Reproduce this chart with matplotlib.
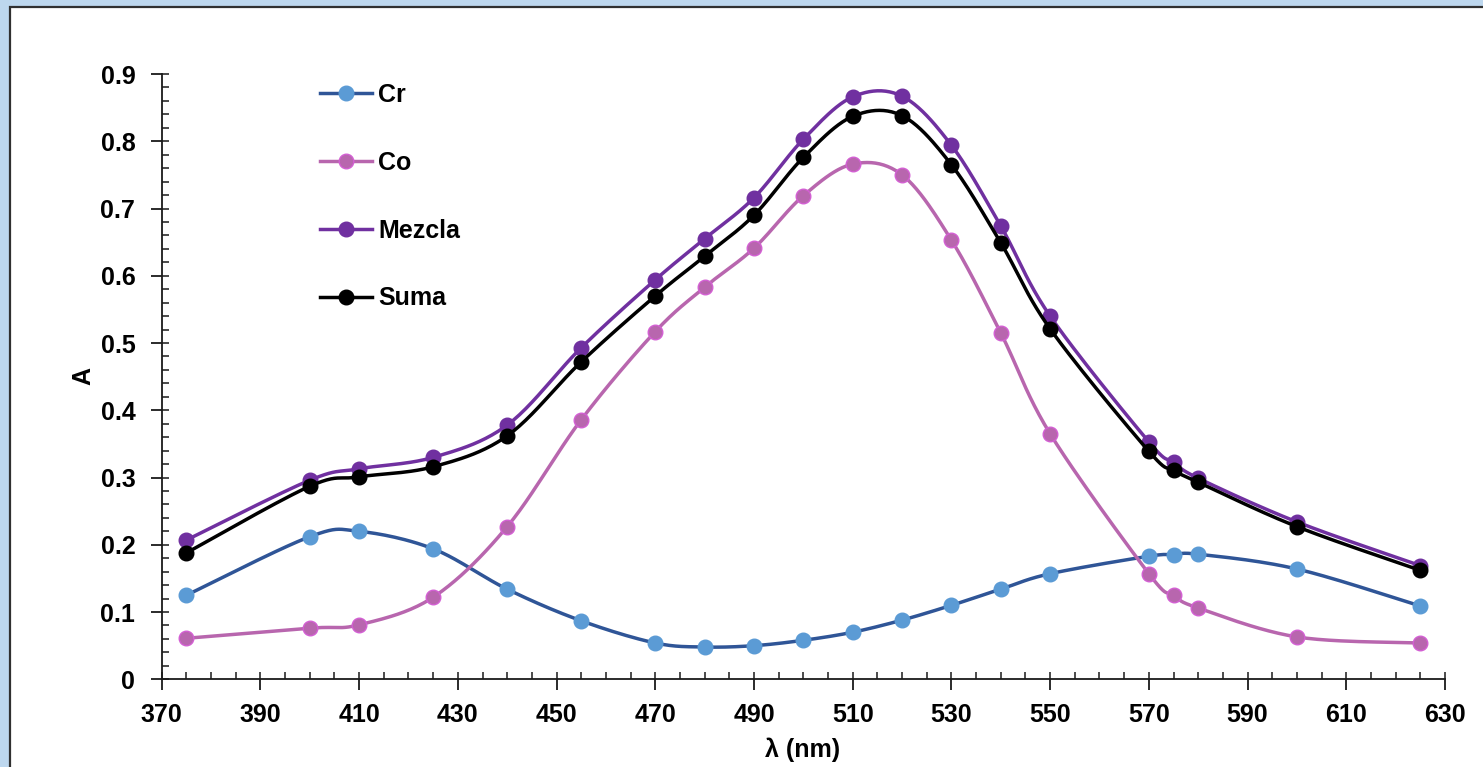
import numpy as np
import matplotlib
matplotlib.use("Agg")
import matplotlib.pyplot as plt
from matplotlib.lines import Line2D
from matplotlib.patches import Rectangle
from matplotlib.ticker import MultipleLocator, FixedLocator

wavelength = [375, 400, 410, 425, 440, 455, 470, 480, 490, 500, 510, 520, 530, 540, 550, 570, 575, 580, 600, 625]
cr = [0.125, 0.212, 0.220, 0.194, 0.134, 0.087, 0.054, 0.048, 0.050, 0.058, 0.070, 0.088, 0.110, 0.134, 0.157, 0.183, 0.185, 0.186, 0.164, 0.109]
co = [0.061, 0.076, 0.081, 0.122, 0.227, 0.386, 0.517, 0.583, 0.641, 0.719, 0.766, 0.750, 0.653, 0.515, 0.365, 0.157, 0.125, 0.106, 0.063, 0.054]
mezcla = [0.207, 0.296, 0.313, 0.330, 0.378, 0.493, 0.594, 0.655, 0.716, 0.803, 0.866, 0.867, 0.794, 0.674, 0.540, 0.353, 0.323, 0.299, 0.234, 0.169]
suma = [0.188, 0.287, 0.301, 0.316, 0.362, 0.472, 0.570, 0.629, 0.690, 0.776, 0.837, 0.838, 0.765, 0.649, 0.521, 0.339, 0.311, 0.293, 0.227, 0.162]

x_major_ticks = [370, 390, 410, 430, 450, 470, 490, 510, 530, 550, 570, 590, 610, 630]

series_names = ["Cr", "Co", "Mezcla", "Suma"]
line_colors = ["#2F5597", "#B866AE", "#7030A0", "#000000"]
marker_faces = ["#5B9BD5", "#B866AE", "#7030A0", "#000000"]
marker_edges = ["#5B9BD5", "#D35FD3", "#7030A0", "#000000"]

plt.rcParams['font.family'] = ['Liberation Sans', 'DejaVu Sans']
plt.rcParams['font.weight'] = 'bold'

W, H = 1483, 767
fig = plt.figure(figsize=(W / 100, H / 100), dpi=100, facecolor="#BDD7EE")

rect = Rectangle((10 / W, -0.1), 1.2, (1 - 7 / H) + 0.1, transform=fig.transFigure,
                 facecolor="white", edgecolor="#303030", linewidth=1.6, zorder=-1)
fig.patches.append(rect)

ax = fig.add_axes([161.7 / W, 1 - 679.3 / H, (1445 - 161.7) / W, (679.3 - 74) / H])
ax.set_facecolor("none")


def smooth(x, y, n=24):
    P = np.column_stack([x, y]).astype(float)
    m = len(P)
    pts = []
    t = np.linspace(0, 1, n, endpoint=False)[:, None]
    for i in range(m - 1):
        p0 = P[max(i - 1, 0)]
        p1 = P[i]
        p2 = P[i + 1]
        p3 = P[min(i + 2, m - 1)]
        b1 = p1 + (p2 - p0) / 6.0
        b2 = p2 - (p3 - p1) / 6.0
        seg = ((1 - t) ** 3) * p1 + 3 * ((1 - t) ** 2) * t * b1 + 3 * (1 - t) * t ** 2 * b2 + t ** 3 * p2
        pts.append(seg)
    pts.append(P[-1][None, :])
    pts = np.vstack(pts)
    return pts[:, 0], pts[:, 1]


data = [cr, co, mezcla, suma]
handles = []
for i, (name, vals) in enumerate(zip(series_names, data)):
    sx, sy = smooth(wavelength, vals)
    ax.plot(sx, sy, color=line_colors[i], lw=2.5, solid_capstyle="round", zorder=2 + i, clip_on=False)
    ax.plot(wavelength, vals, linestyle="none", marker="o", markersize=10.5,
            markerfacecolor=marker_faces[i], markeredgecolor=marker_edges[i],
            markeredgewidth=1.0, zorder=2 + i, clip_on=False)
    handles.append(Line2D([0], [0], color=line_colors[i], lw=2.5, marker="o", markersize=10.5,
                          markerfacecolor=marker_faces[i], markeredgecolor=marker_edges[i],
                          markeredgewidth=1.0))

ax.set_xlim(370, 630)
ax.set_ylim(0, 0.9)
ax.xaxis.set_major_locator(FixedLocator(x_major_ticks))
ax.xaxis.set_minor_locator(MultipleLocator(5))
ax.yaxis.set_major_locator(MultipleLocator(0.1))
ax.yaxis.set_minor_locator(MultipleLocator(0.02))
ax.xaxis.remove_overlapping_locs = False
ax.yaxis.remove_overlapping_locs = False
ax.yaxis.set_major_formatter(matplotlib.ticker.FuncFormatter(lambda v, p: "0" if abs(v) < 1e-9 else f"{v:.1f}"))

for s in ["top", "right"]:
    ax.spines[s].set_visible(False)
for s in ["left", "bottom"]:
    ax.spines[s].set_linewidth(1.3)
    ax.spines[s].set_color("#1a1a1a")

ax.tick_params(which="major", direction="out", length=8, width=1.3, color="#1a1a1a",
               labelsize=18, pad=9)
ax.tick_params(which="minor", direction="in", length=5, width=1.1, color="#1a1a1a")
ax.tick_params(axis="y", which="major", pad=11)
for lab in ax.get_xticklabels() + ax.get_yticklabels():
    lab.set_fontweight("bold")

fig.text(83 / W, 1 - 376 / H, "A", rotation=90, ha="center", va="center", fontsize=18, fontweight="bold")
fig.text(803 / W, 1 - 750 / H, "λ (nm)", ha="center", va="center", fontsize=18, fontweight="bold")

leg = ax.legend(handles, series_names, loc="upper left", bbox_to_anchor=(0.1233, 0.985),
                frameon=False, borderaxespad=0, borderpad=0, handlelength=2.08,
                handletextpad=0.25, labelspacing=1.75, prop={"weight": "bold", "size": 18})

fig.savefig("out.png", dpi=100, facecolor=fig.get_facecolor())
